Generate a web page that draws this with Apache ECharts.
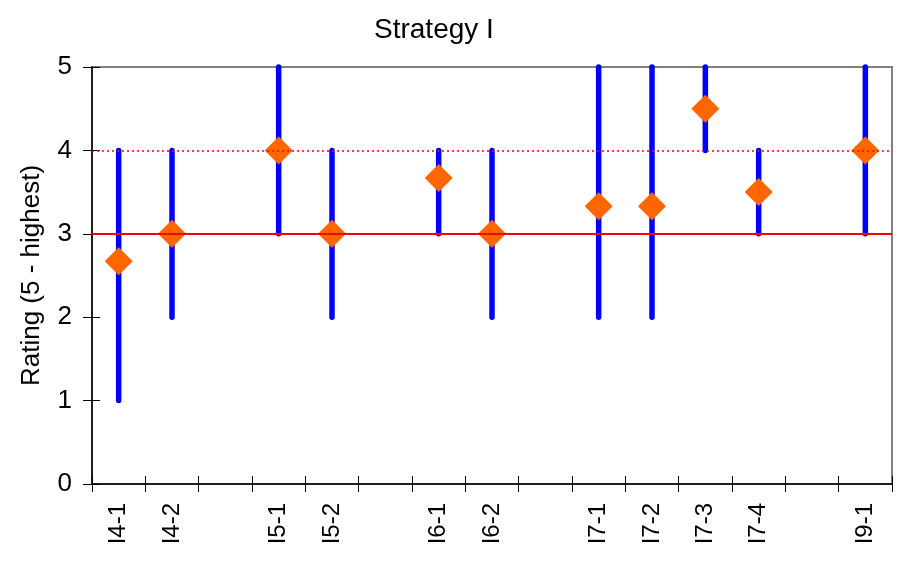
<!DOCTYPE html>
<html>
<head>
<meta charset="utf-8">
<script src="https://cdn.jsdelivr.net/npm/echarts@6/dist/echarts.min.js"></script>
<style>html,body{margin:0;padding:0;background:#fff}#c{width:903px;height:563px}</style>
</head>
<body>
<div id="c"></div>
<script>
// 15 category slots; empty strings are gaps
var categories = ['I4-1','I4-2','','I5-1','I5-2','','I6-1','I6-2','','I7-1','I7-2','I7-3','I7-4','','I9-1'];
var lows  = [1, 2, null, 3, 2, null, 3, 2, null, 2, 2, 4, 3, null, 3];
var highs = [4, 4, null, 5, 4, null, 4, 4, null, 5, 5, 5, 4, null, 5];
var means = [2.67, 3, null, 4, 3, null, 3.67, 3, null, 3.33, 3.33, 4.5, 3.5, null, 4];
var yTicks = [0, 1, 2, 3, 4, 5];
var refSolid = 3, refDotted = 4;

var rangeData = [];
for (var i = 0; i < categories.length; i++) {
  if (lows[i] != null) rangeData.push([i, lows[i], highs[i]]);
}
var meanData = means.map(function (v) { return v == null ? '-' : v; });

var chart = echarts.init(document.getElementById('c'));
var font = 'Liberation Sans, Arial, sans-serif';
chart.setOption({
  animation: false,
  title: { text: 'Strategy I', left: 369, top: 11,
    textStyle: { fontFamily: font, fontSize: 28, fontWeight: 'normal', color: '#000' } },
  grid: { left: 92, right: 11, top: 67, bottom: 79, show: true, borderColor: '#808080', borderWidth: 2 },
  xAxis: [{
    type: 'category', data: categories,
    axisLine: { lineStyle: { color: '#000', width: 1.5 } },
    axisTick: { show: true, interval: 0, length: 8, lineStyle: { color: '#000' } },
    axisLabel: { interval: 0, rotate: 90, margin: 19, color: '#000', fontFamily: font, fontSize: 24 }
  }, {
    type: 'category', data: categories, position: 'bottom',
    axisLine: { show: false },
    axisTick: { show: true, inside: true, interval: 0, length: 8, lineStyle: { color: '#000' } },
    axisLabel: { show: false }
  }],
  yAxis: [{
    type: 'value', min: 0, max: 5, interval: 1,
    name: 'Rating (5 - highest)', nameLocation: 'middle', nameGap: 47, nameRotate: 90,
    nameTextStyle: { fontFamily: font, fontSize: 26, color: '#000' },
    axisLine: { show: true, lineStyle: { color: '#000', width: 1.5 } },
    axisTick: { show: true, length: 9, lineStyle: { color: '#000' } },
    axisLabel: { margin: 20, color: '#000', fontFamily: font, fontSize: 26,
      formatter: function (v) { return yTicks.indexOf(v) >= 0 ? String(v) : ''; } },
    splitLine: { show: false }
  }, {
    type: 'value', min: 0, max: 5, interval: 1, position: 'left',
    axisLine: { show: false },
    axisTick: { show: true, inside: true, length: 8, lineStyle: { color: '#000' } },
    axisLabel: { show: false },
    splitLine: { show: false }
  }],
  series: [
    {
      type: 'custom',
      data: rangeData,
      z: 2,
      renderItem: function (params, api) {
        var p1 = api.coord([api.value(0), api.value(1)]);
        var p2 = api.coord([api.value(0), api.value(2)]);
        return {
          type: 'line',
          shape: { x1: p1[0], y1: p1[1], x2: p2[0], y2: p2[1] },
          style: { stroke: '#0000FF', lineWidth: 5.5, lineCap: 'round' }
        };
      }
    },
    {
      type: 'scatter',
      data: meanData,
      symbol: 'diamond',
      symbolSize: [28, 28],
      z: 3,
      itemStyle: { color: '#FF6600', opacity: 1 }
    },
    {
      type: 'line',
      data: [],
      z: 5,
      markLine: {
        silent: true, symbol: 'none', label: { show: false },
        data: [
          { yAxis: refSolid, lineStyle: { color: '#FF0000', width: 2, type: 'solid' } },
          { yAxis: refDotted, lineStyle: { color: '#FF0000', width: 1.5, type: [2, 3] } }
        ]
      }
    }
  ]
});
</script>
</body>
</html>
